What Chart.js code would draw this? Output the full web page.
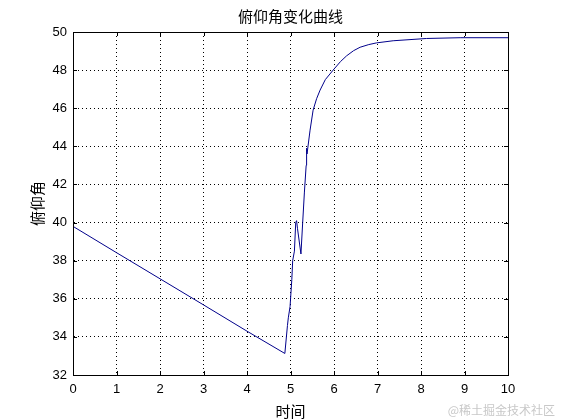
<!DOCTYPE html>
<html>
<head>
<meta charset="utf-8">
<script src="https://cdn.jsdelivr.net/npm/chart.js@4.4.0/dist/chart.umd.min.js"></script>
<style>
  html, body { margin: 0; padding: 0; background: #fff; }
  #wrap { position: relative; width: 561px; height: 420px; }
  #mark {
    position: absolute; right: 6px; bottom: 2px;
    font: 12px 'Noto Sans CJK SC', sans-serif; color: #c8c8c8;
  }
</style>
</head>
<body>
<div id="wrap">
  <canvas id="pitch" width="561" height="420"></canvas>
  <div id="mark">@稀土掘金技术社区</div>
</div>
<script>
/* --------------- Data ------------------------------------------ */
const times = [0, 1, 2, 3, 4, 4.87, 4.93, 4.95, 4.99, 5.03, 5.05, 5.09, 5.12, 5.14, 5.16,
  5.24, 5.28, 5.32, 5.36, 5.37, 5.38, 5.45, 5.52, 5.6, 5.68, 5.8, 5.98, 6.15, 6.29, 6.45, 6.6,
  6.8, 6.98, 7.36, 8.13, 8.9, 10];
const angles = [39.8, 38.42, 37.05, 35.68, 34.3, 33.13, 34.6, 35.0, 35.6, 37.0, 38.0, 38.5, 40.0, 40.1, 39.7,
  38.35, 40.0, 41.6, 43.0, 43.9, 43.6, 44.85, 45.9, 46.5, 46.95, 47.5, 48.0, 48.45, 48.75, 49.02, 49.2,
  49.34, 49.43, 49.54, 49.66, 49.7, 49.7];
const xTicks = [0, 1, 2, 3, 4, 5, 6, 7, 8, 9, 10];
const yTicks = [32, 34, 36, 38, 40, 42, 44, 46, 48, 50];
const titleText = "俯仰角变化曲线";

const FONT = "'Liberation Sans', 'Noto Sans CJK SC', sans-serif";
const CJK = "'Noto Sans CJK SC', sans-serif";

const points = times.map((t, i) => ({ x: t, y: angles[i] }));

/* --------------- Box, inward ticks and a title centred on the axes --------------------- */
const boxPlugin = {
  id: "box",
  afterDraw(chart) {
    const { ctx, chartArea: a, scales } = chart;
    ctx.save();
    ctx.strokeStyle = "#000";
    ctx.lineWidth = 1;
    ctx.strokeRect(a.left + 0.5, a.top + 0.5, a.right - a.left, a.bottom - a.top);
    ctx.beginPath();
    xTicks.forEach((v) => {
      const px = Math.round(scales.x.getPixelForValue(v)) + 0.5;
      ctx.moveTo(px, a.bottom); ctx.lineTo(px, a.bottom - 4);
      ctx.moveTo(px, a.top); ctx.lineTo(px, a.top + 4);
    });
    yTicks.forEach((v) => {
      const py = Math.round(scales.y.getPixelForValue(v)) + 0.5;
      ctx.moveTo(a.left, py); ctx.lineTo(a.left + 4, py);
      ctx.moveTo(a.right, py); ctx.lineTo(a.right - 4, py);
    });
    ctx.stroke();

    ctx.fillStyle = "#000";
    ctx.font = "15px " + CJK;
    ctx.textAlign = "center";
    ctx.textBaseline = "middle";
    ctx.fillText(titleText, (a.left + a.right) / 2, 16);
    ctx.restore();
  },
};

new Chart(document.getElementById("pitch"), {
  type: "line",
  plugins: [boxPlugin],
  data: {
    datasets: [
      {
        data: points,
        borderColor: "#00008b",
        borderWidth: 1,
        pointRadius: 0,
        tension: 0,
        fill: false,
      },
    ],
  },
  options: {
    responsive: false,
    animation: false,
    layout: { padding: { left: 0, right: 53, top: 32, bottom: 0 } },
    plugins: {
      legend: { display: false },
      tooltip: { enabled: false },
      title: { display: false },
    },
    scales: {
      x: {
        type: "linear",
        min: 0,
        max: 10,
        afterBuildTicks: (s) => { s.ticks = xTicks.map((v) => ({ value: v })); },
        afterFit: (s) => { s.height = 45; },
        grid: { color: "#000", lineWidth: 1, drawTicks: false },
        border: { display: true, color: "#000", dash: [1, 3] },
        ticks: { color: "#000", padding: 7, maxRotation: 0, font: { family: FONT, size: 13 } },
        title: {
          display: true,
          text: "时间",
          color: "#000",
          font: { family: CJK, size: 15 },
          padding: { top: 0, bottom: 0 },
        },
      },
      y: {
        min: 32,
        max: 50,
        afterBuildTicks: (s) => { s.ticks = yTicks.map((v) => ({ value: v })); },
        afterFit: (s) => { s.width = 73; },
        grid: { color: "#000", lineWidth: 1, drawTicks: false },
        border: { display: true, color: "#000", dash: [1, 3] },
        ticks: { color: "#000", padding: 6, font: { family: FONT, size: 13 } },
        title: {
          display: true,
          text: "俯仰角",
          color: "#000",
          font: { family: CJK, size: 15 },
          padding: { top: 28, bottom: 0 },
        },
      },
    },
  },
});
</script>
</body>
</html>
